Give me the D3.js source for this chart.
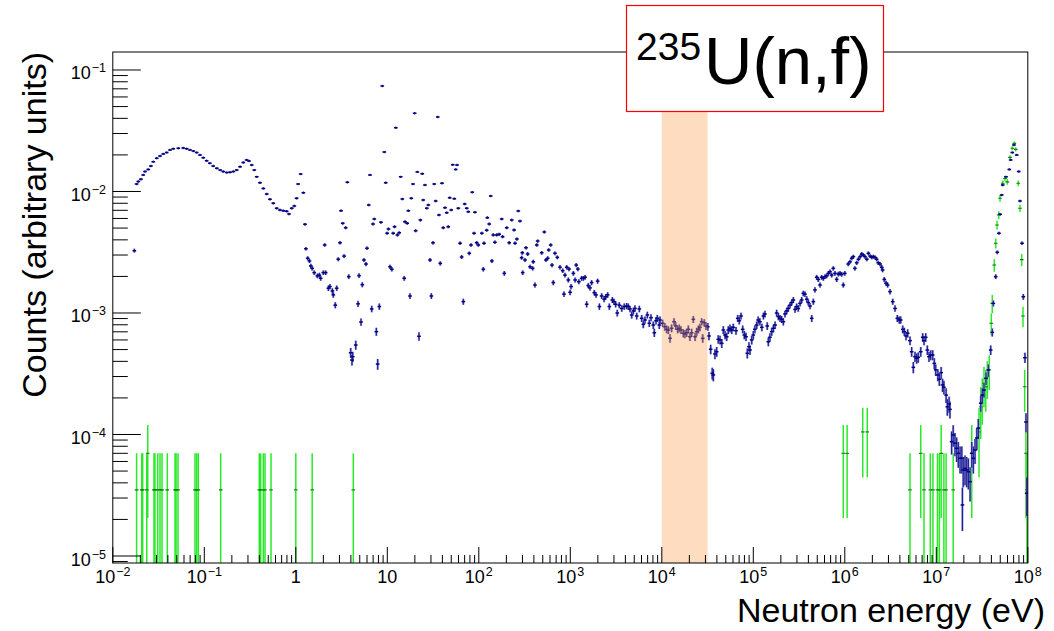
<!DOCTYPE html>
<html>
<head>
<meta charset="utf-8">
<script src="https://cdn.jsdelivr.net/npm/d3@7"></script>
<style>
  html, body { margin: 0; padding: 0; background: #fff; }
  svg { display: block; font-family: "Liberation Sans", Arial, Helvetica, sans-serif; }
</style>
</head>
<body>
<svg id="chart" width="1054" height="631"></svg>
<script>
// ---- data: 235U(n,f) fission counts per energy bin ----
// main spectrum (blue): bin energy in eV and counts (arbitrary units)
const blueEnergy = [
  0.0172, 0.0182, 0.0190, 0.0203, 0.0215, 0.0225, 0.0244, 0.0261, 0.0277, 0.0302,
  0.0328, 0.0356, 0.0388, 0.0422, 0.0458, 0.0520, 0.0589, 0.0642, 0.0698, 0.0759,
  0.0826, 0.0897, 0.0975, 0.106, 0.115, 0.125, 0.137, 0.149, 0.161, 0.176,
  0.191, 0.208, 0.226, 0.246, 0.267, 0.290, 0.308, 0.330, 0.352, 0.374,
  0.406, 0.442, 0.481, 0.522, 0.568, 0.618, 0.671, 0.730, 0.794, 0.843,
  0.902, 0.964, 1.02, 1.06, 1.13, 1.21, 1.26,
  1.29, 1.35, 1.41, 1.46, 1.51, 1.59, 1.72, 1.81, 1.87, 2.00,
  2.07, 2.12, 2.27, 2.36, 2.51, 2.57, 2.70, 2.80, 2.91, 3.04,
  3.12, 3.26, 3.37, 3.51, 3.66, 3.79, 3.98, 4.11, 4.19, 4.52,
  4.79, 4.91, 5.16, 5.33, 5.56, 5.85, 6.00, 6.27, 6.47, 6.76,
  6.98, 7.21, 7.59, 7.85, 8.18, 8.53, 8.81, 9.27, 9.61, 9.95,
  10.3, 10.7, 11.2, 11.6, 12.0, 12.4, 12.9, 13.5, 14.0, 14.6,
  15.3, 15.6, 16.5, 17.0, 17.7, 18.3, 19.1, 19.9, 20.4, 21.3,
  22.2, 23.0, 24.1, 24.7, 25.8, 27.0, 28.1, 29.3, 30.3, 31.6,
  32.6, 33.8, 35.6, 36.7, 37.9, 39.6, 40.9, 42.7, 44.6, 46.4,
  48.1, 50.0, 51.9, 54.0, 55.9, 57.8, 59.7, 62.4, 65.0, 67.7,
  70.1, 73.8, 76.8, 78.7,
  82.2, 84.9, 88.7, 90.8, 94.8, 98.8, 108, 112, 114, 122,
  124, 130, 135, 139, 144, 150, 157, 167, 178, 182,
  190, 202, 215, 229, 243, 249, 261, 270, 282, 294,
  299, 302, 320, 328, 342, 363, 388, 394, 411, 430,
  440, 487, 520, 542, 566, 581, 611, 631, 652, 680,
  721, 771, 826, 853, 875, 914, 951, 968, 995, 1020,
  1080, 1130, 1160, 1210, 1240, 1330, 1390, 1450, 1510, 1570,
  1640, 1710, 1830, 1910, 1990, 2080, 2200, 2340, 2440, 2560,
  2670, 2880, 3000, 3130, 3260, 3430, 3650, 3890, 4130, 4300,
  4490, 4690, 4890, 5090, 5320, 5680, 6030, 6280, 6550, 6950,
  7300, 7620, 8070, 8280, 8640, 8930, 9390,
  9560, 1.02e4, 1.08e4, 1.13e4, 1.18e4, 1.23e4, 1.28e4, 1.36e4, 1.42e4, 1.49e4,
  1.55e4, 1.62e4, 1.72e4, 1.79e4, 1.87e4, 1.95e4, 2.03e4, 2.12e4, 2.21e4, 2.31e4,
  2.41e4, 2.51e4, 2.61e4, 2.73e4, 2.80e4, 2.91e4, 3.04e4, 3.18e4, 3.28e4, 3.42e4,
  3.56e4, 3.66e4, 3.81e4, 3.98e4, 4.14e4, 4.33e4, 4.52e4, 4.70e4, 4.91e4, 5.12e4,
  5.33e4, 5.56e4, 5.81e4, 6.04e4, 6.47e4, 6.76e4, 7.03e4, 7.34e4, 7.66e4, 7.98e4,
  8.32e4, 8.60e4, 8.97e4, 9.20e4, 9.61e4, 1.00e5, 1.04e5, 1.09e5, 1.13e5, 1.18e5,
  1.24e5, 1.29e5, 1.34e5, 1.42e5, 1.46e5, 1.52e5, 1.59e5, 1.66e5, 1.73e5, 1.80e5,
  1.88e5, 1.96e5, 2.04e5, 2.13e5, 2.22e5, 2.32e5, 2.41e5, 2.52e5, 2.63e5, 2.74e5,
  2.86e5, 2.98e5, 3.10e5, 3.24e5, 3.38e5, 3.52e5, 3.67e5, 3.84e5, 3.99e5, 4.17e5,
  4.35e5, 4.53e5, 4.72e5, 4.93e5, 5.13e5, 5.36e5, 5.59e5, 5.82e5, 6.08e5, 6.34e5,
  6.61e5, 6.89e5, 7.19e5, 7.48e5, 7.81e5, 8.15e5, 8.49e5, 8.87e5, 9.25e5, 9.63e5,
  1.00e6, 1.09e6, 1.14e6, 1.19e6, 1.24e6, 1.29e6, 1.35e6, 1.41e6, 1.47e6, 1.53e6,
  1.59e6, 1.66e6, 1.74e6, 1.81e6, 1.89e6, 1.97e6, 2.05e6, 2.14e6, 2.23e6, 2.32e6,
  2.43e6, 2.53e6, 2.59e6, 2.70e6, 2.82e6, 2.94e6, 3.12e6,
  3.34e6, 3.54e6, 3.75e6, 3.94e6, 4.08e6, 4.30e6, 4.47e6, 4.67e6, 4.87e6, 5.16e6,
  5.38e6, 5.61e6, 5.85e6, 6.11e6, 6.35e6, 6.76e6, 7.10e6, 7.34e6, 7.66e6, 7.98e6,
  8.32e6, 8.69e6, 9.14e6, 9.51e6, 9.85e6, 1.04e7, 1.08e7, 1.13e7, 1.17e7, 1.21e7,
  1.28e7, 1.32e7, 1.38e7, 1.41e7, 1.47e7, 1.53e7, 1.60e7, 1.67e7, 1.74e7, 1.82e7,
  1.90e7, 1.93e7, 1.97e7, 2.06e7, 2.15e7, 2.24e7, 2.34e7, 2.44e7, 2.54e7, 2.65e7,
  2.77e7, 2.88e7, 3.06e7, 3.18e7, 3.32e7, 3.49e7, 3.70e7, 3.93e7, 4.09e7, 4.20e7,
  4.46e7, 4.64e7, 4.84e7, 4.97e7, 5.19e7, 5.32e7, 5.78e7, 6.28e7, 6.50e7, 6.77e7,
  7.06e7, 7.57e7, 7.96e7, 8.22e7, 8.65e7, 8.93e7, 9.31e7, 9.55e7, 9.73e7
];
const blueCounts = [
  3.26e-3, 1.15e-2, 1.21e-2, 1.26e-2, 1.37e-2, 1.46e-2, 1.52e-2, 1.62e-2, 1.76e-2, 1.88e-2,
  1.96e-2, 2.04e-2, 2.09e-2, 2.20e-2, 2.25e-2, 2.27e-2, 2.28e-2, 2.25e-2, 2.20e-2, 2.15e-2,
  2.09e-2, 2.00e-2, 1.90e-2, 1.79e-2, 1.71e-2, 1.62e-2, 1.55e-2, 1.50e-2, 1.46e-2, 1.43e-2,
  1.44e-2, 1.46e-2, 1.50e-2, 1.60e-2, 1.73e-2, 1.82e-2, 1.78e-2, 1.65e-2, 1.50e-2, 1.32e-2,
  1.18e-2, 1.06e-2, 9.53e-3, 8.63e-3, 8.00e-3, 7.28e-3, 7.05e-3, 6.95e-3, 6.87e-3, 6.53e-3,
  7.28e-3, 7.60e-3, 8.80e-3, 1.15e-2, 1.39e-2, 9.77e-3, 5.37e-3,
  3.38e-3, 2.82e-3, 2.68e-3, 2.44e-3, 2.33e-3, 2.15e-3, 2.02e-3, 2.05e-3, 1.93e-3, 2.15e-3,
  3.63e-3, 2.15e-3, 1.60e-3, 1.65e-3, 1.52e-3, 1.41e-3, 1.16e-3, 1.60e-3, 2.77e-3, 3.79e-3,
  6.95e-3, 5.47e-3, 2.94e-3, 5.04e-3, 1.19e-2, 1.99e-3, 4.71e-4, 4.10e-4, 4.37e-4, 5.45e-4,
  1.19e-3, 2.03e-3, 8.43e-4, 1.71e-3, 2.73e-3, 2.53e-3, 3.41e-3, 7.74e-3, 1.37e-2, 1.08e-3,
  5.40e-3, 5.94e-3, 7.02e-4, 3.80e-4, 1.13e-3, 5.58e-3, 7.38e-2, 2.11e-2, 1.18e-2, 4.53e-3,
  4.91e-3, 2.40e-3, 2.29e-3, 4.53e-3, 5.13e-3, 3.35e-2, 4.39e-3, 4.58e-3, 1.32e-2, 8.67e-3,
  1.93e-3, 5.64e-3, 5.47e-3, 6.95e-3, 1.38e-3, 8.79e-3, 1.15e-2, 4.40e-2, 4.76e-3, 1.45e-2,
  6.43e-4, 5.82e-3, 1.40e-2, 8.51e-3, 1.13e-2, 7.27e-3, 7.74e-3, 2.73e-3, 1.38e-3, 3.79e-3,
  1.15e-2, 8.35e-3, 4.10e-2, 6.41e-3, 2.56e-3, 1.17e-2, 5.04e-3, 7.36e-3, 6.69e-3, 5.13e-3,
  8.89e-3, 7.05e-3, 1.66e-2, 8.73e-3, 1.52e-2, 1.65e-2, 7.27e-3, 3.75e-3, 2.89e-3, 1.24e-3,
  7.89e-3, 7.27e-3, 6.82e-3, 3.10e-3,
  3.63e-3, 9.85e-3, 4.53e-3, 6.74e-3, 3.79e-3, 3.63e-3, 4.53e-3, 2.29e-3, 3.75e-3, 4.80e-3,
  6.09e-3, 5.40e-3, 9.18e-3, 2.68e-3, 4.39e-3, 3.82e-3, 4.39e-3, 4.44e-3, 5.94e-3, 4.25e-3,
  2.12e-3, 5.04e-3, 3.79e-3, 5.82e-3, 4.82e-3, 3.75e-3, 4.06e-3, 6.91e-3, 5.71e-3, 2.85e-3,
  3.13e-3, 2.15e-3, 2.73e-3, 3.45e-3, 3.06e-3, 2.40e-3, 2.33e-3, 2.64e-3, 1.70e-3, 3.63e-3,
  3.91e-3, 3.13e-3, 4.64e-3, 2.73e-3, 2.82e-3, 3.30e-3, 3.63e-3, 2.48e-3, 1.78e-3, 3.10e-3,
  2.87e-3, 2.38e-3, 2.23e-3, 1.43e-3, 2.05e-3, 2.38e-3, 1.87e-3, 2.30e-3, 1.48e-3, 1.65e-3,
  2.12e-3, 1.87e-3, 2.48e-3, 2.30e-3, 1.81e-3, 1.93e-3, 1.93e-3, 1.97e-3, 1.18e-3, 1.68e-3,
  1.61e-3, 1.78e-3, 1.47e-3, 1.41e-3, 1.83e-3, 1.13e-3, 1.38e-3, 1.30e-3, 1.36e-3, 1.41e-3,
  1.13e-3, 1.28e-3, 1.24e-3, 1.18e-3, 1.00e-3, 1.16e-3, 1.09e-3, 1.13e-3, 1.14e-3, 1.13e-3,
  1.08e-3, 9.63e-4, 1.04e-3, 1.09e-3, 9.45e-4, 1.08e-3, 9.04e-4, 8.07e-4, 8.76e-4, 9.63e-4,
  8.23e-4, 9.15e-4, 7.96e-4, 6.88e-4, 8.64e-4, 9.04e-4, 7.96e-4,
  8.76e-4, 8.23e-4, 7.71e-4, 7.34e-4, 7.24e-4, 6.19e-4, 7.48e-4, 8.48e-4, 7.82e-4, 7.34e-4,
  7.48e-4, 7.24e-4, 6.81e-4, 6.72e-4, 6.88e-4, 7.34e-4, 6.38e-4, 6.88e-4, 8.87e-4, 6.38e-4,
  7.02e-4, 7.34e-4, 7.62e-4, 8.48e-4, 6.19e-4, 8.32e-4, 7.82e-4, 7.71e-4, 6.47e-4, 5.03e-4,
  3.19e-4, 3.09e-4, 4.60e-4, 4.80e-4, 6.08e-4, 6.00e-4, 5.63e-4, 7.24e-4, 6.59e-4, 6.38e-4,
  7.24e-4, 7.48e-4, 7.24e-4, 7.62e-4, 7.15e-4, 9.04e-4, 8.64e-4, 9.45e-4, 7.34e-4, 6.59e-4,
  6.38e-4, 4.66e-4, 5.28e-4, 4.96e-4, 6.00e-4, 6.59e-4, 7.34e-4, 7.96e-4, 8.76e-4, 8.48e-4,
  7.62e-4, 9.45e-4, 9.82e-4, 7.82e-4, 5.80e-4, 6.31e-4, 7.02e-4, 7.48e-4, 7.96e-4, 1.00e-3,
  9.33e-4, 9.04e-4, 8.87e-4, 8.48e-4, 9.82e-4, 1.04e-3, 1.09e-3, 1.16e-3, 1.22e-3, 1.28e-3,
  1.07e-3, 1.13e-3, 1.09e-3, 1.20e-3, 1.28e-3, 1.45e-3, 1.43e-3, 1.30e-3, 1.22e-3, 1.14e-3,
  9.04e-4, 1.24e-3, 1.55e-3, 1.97e-3, 1.89e-3, 1.70e-3, 1.97e-3, 1.93e-3, 1.99e-3, 2.02e-3,
  2.12e-3, 2.19e-3, 2.05e-3, 2.33e-3, 2.12e-3, 1.89e-3, 2.09e-3, 2.12e-3, 2.08e-3, 1.70e-3,
  2.12e-3, 2.53e-3, 2.64e-3, 2.82e-3, 2.91e-3, 2.33e-3, 2.59e-3, 2.77e-3, 2.91e-3, 3.06e-3,
  3.00e-3, 2.91e-3, 2.77e-3, 3.10e-3, 2.94e-3, 2.87e-3, 2.91e-3, 2.87e-3, 2.77e-3, 2.59e-3,
  2.53e-3, 2.38e-3, 2.26e-3, 1.89e-3, 1.76e-3, 1.70e-3, 1.50e-3,
  1.24e-3, 1.09e-3, 9.04e-4, 8.76e-4, 8.76e-4, 7.34e-4, 7.02e-4, 6.47e-4, 6.81e-4, 5.92e-4,
  4.80e-4, 3.57e-4, 4.37e-4, 4.24e-4, 4.32e-4, 4.80e-4, 6.31e-4, 5.92e-4, 6.31e-4, 4.96e-4,
  4.37e-4, 4.51e-4, 4.51e-4, 3.85e-4, 3.40e-4, 3.09e-4, 2.85e-4, 3.23e-4, 2.56e-4, 2.45e-4,
  2.11e-4, 1.69e-4, 1.78e-4, 1.61e-4, 8.73e-5, 9.91e-5, 8.47e-5, 7.70e-5, 7.00e-5, 6.37e-5,
  6.37e-5, 2.63e-5, 5.10e-5, 5.27e-5, 5.10e-5, 4.94e-5, 4.09e-5, 7.00e-5, 6.37e-5, 7.45e-5,
  9.36e-5, 1.13e-4, 1.81e-4, 2.11e-4, 2.32e-4, 2.90e-4, 3.40e-4, 4.96e-4, 6.93e-4, 1.20e-3,
  1.99e-3, 3.16e-3, 4.53e-3, 6.49e-3, 9.36e-3, 1.13e-2, 1.32e-2, 1.52e-2, 1.82e-2, 2.09e-2,
  2.41e-2, 2.00e-2, 1.46e-2, 8.35e-3, 3.75e-3, 1.36e-3, 4.29e-4, 1.27e-4, 3.28e-5
];

// second selection (green): bin energy in eV and counts
const greenEnergy = [
  0.0182, 0.0207, 0.0212, 0.0235, 0.0241, 0.0282, 0.0289, 0.0310, 0.0328, 0.0345,
  0.0394, 0.0479, 0.0491, 0.0516, 0.0791, 0.0826, 0.0860, 0.151, 0.399, 0.413,
  0.442, 0.461, 0.536, 1.00, 1.51, 4.25,
  9.63e5, 1.06e6, 1.57e6, 1.76e6, 5.16e6, 6.76e6, 7.34e6, 8.60e6, 9.20e6, 1.03e7,
  1.08e7, 1.13e7, 1.21e7, 1.28e7, 1.53e7, 2.44e7, 2.93e7, 3.06e7, 3.18e7, 3.32e7,
  3.47e7, 3.61e7, 3.79e7, 3.99e7, 4.09e7, 4.30e7, 4.46e7, 4.61e7, 4.81e7, 4.97e7,
  5.32e7, 5.63e7, 5.97e7, 6.39e7, 6.77e7, 7.12e7, 7.38e7, 7.87e7, 8.22e7, 8.58e7,
  8.86e7, 9.25e7, 9.55e7, 9.78e7
];
const greenCounts = [
  3.5e-5, 3.5e-5, 3.5e-5, 3.5e-5, 7.0e-5, 3.5e-5, 3.5e-5, 3.5e-5, 3.5e-5, 3.5e-5,
  3.5e-5, 3.5e-5, 3.5e-5, 3.5e-5, 3.5e-5, 3.5e-5, 3.5e-5, 3.5e-5, 3.5e-5, 3.5e-5,
  3.5e-5, 3.5e-5, 3.5e-5, 3.5e-5, 3.5e-5, 3.5e-5,
  7.0e-5, 7.0e-5, 1.05e-4, 1.05e-4, 3.5e-5, 7.0e-5, 3.5e-5, 3.5e-5, 3.5e-5, 3.5e-5,
  3.5e-5, 7.0e-5, 3.5e-5, 3.5e-5, 3.5e-5, 7.0e-5, 1.05e-4, 1.69e-4, 2.05e-4, 2.64e-4,
  2.47e-4, 2.99e-4, 3.40e-4, 8.23e-4, 1.20e-3, 2.48e-3, 3.75e-3, 5.30e-3, 6.41e-3, 8.79e-3,
  1.17e-2, 1.28e-2, 1.20e-2, 1.91e-2, 2.27e-2, 2.49e-2, 2.22e-2, 1.17e-2, 7.27e-3, 2.75e-3,
  9.45e-4, 2.47e-4, 7.0e-5, 3.5e-5
];

// weight of a single count in each selection (for Poisson error bars)
const blueCountWeight = 4e-6;
const greenCountWeight = 3.5e-5;

// highlighted energy window (eV)
const bandRange = [1e4, 3.16e4];

// axis decades and labels
const xDecades = [-2, -1, 0, 1, 2, 3, 4, 5, 6, 7, 8];
const yDecades = [-5, -4, -3, -2, -1];
const xTitle = "Neutron energy (eV)";
const yTitle = "Counts (arbitrary units)";
const titleMass = "235";
const titleReaction = "U(n,f)";

// ---- layout ----
const frame = { left: 112.8, right: 1027.8, top: 52, bottom: 563 };
const svg = d3.select("#chart");

const x = d3.scaleLog().domain([1e-2, 1e8]).range([frame.left, frame.right]);
const y = d3.scaleLog()
  .domain([Math.pow(10, -5.0576), Math.pow(10, -0.8519)])
  .range([frame.bottom, frame.top]);

svg.append("defs").append("clipPath").attr("id", "plotArea")
  .append("rect")
  .attr("x", frame.left).attr("y", frame.top)
  .attr("width", frame.right - frame.left).attr("height", frame.bottom - frame.top);

const plot = svg.append("g").attr("clip-path", "url(#plotArea)");

// horizontal half-bin extent in decades
const halfBin = 0.02;

function drawSeries(energy, counts, weight, style) {
  const pts = energy.map((e, i) => {
    const c = counts[i];
    const err = Math.sqrt(c * weight);
    return { e, c, hi: c + err, lo: c - err };
  });
  const yMin = y.domain()[0];
  const g = plot.append("g");
  const yLo = d => (d.lo > yMin ? y(d.lo) : frame.bottom + 5);

  if (style.halo) {
    g.selectAll("line.halo").data(pts).join("line")
      .attr("class", "halo")
      .attr("x1", d => x(d.e)).attr("x2", d => x(d.e))
      .attr("y1", d => y(d.hi)).attr("y2", yLo)
      .attr("stroke", style.halo).attr("stroke-width", style.haloWidth);
  }
  g.selectAll("line.vbar").data(pts).join("line")
    .attr("class", "vbar")
    .attr("x1", d => x(d.e)).attr("x2", d => x(d.e))
    .attr("y1", d => Math.min(y(d.hi), y(d.c) - style.minArm))
    .attr("y2", d => Math.max(yLo(d), y(d.c) + style.minArm))
    .attr("stroke", style.bar).attr("stroke-width", style.barWidth)
    .attr("stroke-opacity", style.barOpacity);
  g.selectAll("line.hbar").data(pts).join("line")
    .attr("class", "hbar")
    .attr("x1", d => x(d.e * Math.pow(10, -halfBin)))
    .attr("x2", d => x(d.e * Math.pow(10, halfBin)))
    .attr("y1", d => y(d.c)).attr("y2", d => y(d.c))
    .attr("stroke", style.mark).attr("stroke-width", style.markWidth);
}

drawSeries(greenEnergy, greenCounts, greenCountWeight, {
  bar: "#1ee81e", barWidth: 1.5, barOpacity: 0.95, minArm: 0,
  mark: "#0b7a0b", markWidth: 1.1
});
drawSeries(blueEnergy, blueCounts, blueCountWeight, {
  halo: "#9a9ad8", haloWidth: 2.2,
  bar: "#12128f", barWidth: 1.2, barOpacity: 0.9, minArm: 1.2,
  mark: "#000080", markWidth: 1.5
});

// highlighted window drawn over the spectrum
svg.append("rect")
  .attr("x", x(bandRange[0])).attr("y", frame.top)
  .attr("width", x(bandRange[1]) - x(bandRange[0]))
  .attr("height", frame.bottom - frame.top)
  .attr("fill", "#f89a48").attr("fill-opacity", 0.35);

// ---- frame and axes ----
const axes = svg.append("g").attr("stroke", "#000").attr("fill", "none");
axes.append("rect")
  .attr("x", frame.left).attr("y", frame.top)
  .attr("width", frame.right - frame.left).attr("height", frame.bottom - frame.top)
  .attr("stroke-width", 1);

// y ticks (inside, from left edge)
const [yLow, yHigh] = y.domain();
for (let p = -6; p <= 0; p++) {
  for (let m = 1; m <= 9; m++) {
    const v = m * Math.pow(10, p);
    if (v < yLow || v > yHigh) continue;
    const yy = y(v);
    axes.append("line")
      .attr("x1", frame.left).attr("x2", frame.left + (m === 1 ? 28 : 15))
      .attr("y1", yy).attr("y2", yy).attr("stroke-width", 1);
  }
}
// x ticks (inside, from bottom edge)
for (let p = -2; p <= 8; p++) {
  for (let m = 1; m <= 9; m++) {
    const v = m * Math.pow(10, p);
    if (v < 1e-2 || v > 1e8 * 1.0001) continue;
    const xx = x(v);
    axes.append("line")
      .attr("x1", xx).attr("x2", xx)
      .attr("y1", frame.bottom).attr("y2", frame.bottom - (m === 1 ? 16 : 8))
      .attr("stroke-width", 1);
  }
}

function decadeLabel(exp, px, py, anchor) {
  const t = svg.append("text")
    .attr("x", px).attr("y", py)
    .attr("text-anchor", anchor)
    .attr("font-size", 18).attr("fill", "#000");
  if (exp === 0) { t.text("1"); return; }
  if (exp === 1) { t.text("10"); return; }
  t.append("tspan").text("10");
  t.append("tspan").attr("dx", 1).attr("dy", -7).attr("font-size", 12.5)
    .text(exp < 0 ? "\u2212" + (-exp) : String(exp));
}
xDecades.forEach(p => decadeLabel(p, x(Math.pow(10, p)), 583, "middle"));
yDecades.forEach(p => decadeLabel(p, 106, y(Math.pow(10, p)) + 9.5, "end"));

// axis titles
svg.append("text")
  .attr("x", 1045).attr("y", 622)
  .attr("text-anchor", "end").attr("font-size", 34)
  .text(xTitle);
svg.append("text")
  .attr("transform", `translate(46, ${frame.top}) rotate(-90)`)
  .attr("text-anchor", "end").attr("font-size", 34)
  .text(yTitle);

// ---- reaction label box ----
svg.append("rect")
  .attr("x", 626.5).attr("y", 5.5).attr("width", 257).attr("height", 106)
  .attr("fill", "#fff").attr("stroke", "#ff0000").attr("stroke-width", 1.2);
svg.append("text")
  .attr("x", 636).attr("y", 60).attr("font-size", 39)
  .text(titleMass);
svg.append("text")
  .attr("x", 704).attr("y", 83.5).attr("font-size", 67)
  .text(titleReaction);
</script>
</body>
</html>
